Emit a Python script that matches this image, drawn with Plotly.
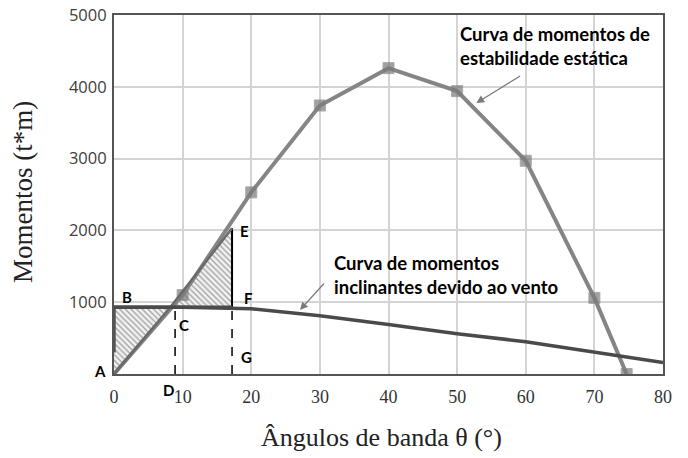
import plotly.graph_objects as go

# ---- data ----
stab_x = [0, 10, 20, 30, 40, 50, 60, 70, 74.7]
stab_y = [0, 1100, 2530, 3740, 4260, 3940, 2970, 1060, 0]

wind_x = [0, 10, 20, 30, 40, 50, 60, 70, 80]
wind_y = [930, 930, 910, 810, 690, 560, 450, 310, 160]

# construction points
A = (0, 0)
B = (0, 930)
C = (8.2, 930)
D_x = 8.9
E = (17.2, 2030)
F = (17.2, 930)

x_ticks = [0, 10, 20, 30, 40, 50, 60, 70, 80]
y_ticks = [1000, 2000, 3000, 4000, 5000]

fig = go.Figure()

hatch = dict(shape="\\", fgcolor="#555555", bgcolor="#f2f2f2", size=4, solidity=0.35)

# hatched triangles ABC and CEF
fig.add_trace(go.Scatter(x=[A[0], B[0], C[0], A[0]], y=[A[1], B[1], C[1], A[1]],
                         fill="toself", fillpattern=hatch, mode="lines",
                         line=dict(width=0), hoverinfo="skip", showlegend=False))
fig.add_trace(go.Scatter(x=[C[0], E[0], F[0], C[0]], y=[C[1], E[1], F[1], C[1]],
                         fill="toself", fillpattern=hatch, mode="lines",
                         line=dict(width=0), hoverinfo="skip", showlegend=False))

# dark segment along y axis
fig.add_trace(go.Scatter(x=[0, 0], y=[300, B[1]], mode="lines",
                         line=dict(color="#555555", width=3.5), showlegend=False))

# dashed verticals
fig.add_trace(go.Scatter(x=[D_x, D_x], y=[0, C[1]], mode="lines",
                         line=dict(color="black", width=1.5, dash="dash"), showlegend=False))
fig.add_trace(go.Scatter(x=[F[0], F[0]], y=[0, F[1]], mode="lines",
                         line=dict(color="black", width=1.5, dash="dash"), showlegend=False))
# solid EF
fig.add_trace(go.Scatter(x=[E[0], F[0]], y=[E[1], F[1]], mode="lines",
                         line=dict(color="black", width=2), showlegend=False))

# stability curve
fig.add_trace(go.Scatter(x=stab_x, y=stab_y, mode="lines+markers",
                         line=dict(color="#858585", width=4),
                         marker=dict(symbol="square", size=[0] + [11] * (len(stab_x) - 1),
                                     color="#7a7a7a"),
                         showlegend=False))

# A-C-E line
fig.add_trace(go.Scatter(x=[A[0], C[0], E[0]], y=[A[1], C[1], E[1]], mode="lines",
                         line=dict(color="#6a6a6a", width=2.5), showlegend=False))

# wind heeling curve
fig.add_trace(go.Scatter(x=wind_x, y=wind_y, mode="lines",
                         line=dict(color="#4a4a4a", width=3.5), showlegend=False))
# horizontal B-F highlight
fig.add_trace(go.Scatter(x=[B[0], F[0]], y=[B[1], F[1]], mode="lines",
                         line=dict(color="#4a4a4a", width=3.5), showlegend=False))

# plot-area pixel geometry used for paper-positioned labels
PL, PW, PB, PH = 114, 549, 374, 359


def px(xp):
    return (xp - PL) / PW


def py(yp):
    return (PB - yp) / PH


lab_font = dict(family="Lato", size=15, color="black")
letters = [("B", 1.95, 1070), ("C", 10.2, 680),
           ("E", 19.0, 1990), ("F", 19.6, 1055), ("G", 19.3, 236)]
for t, x, y in letters:
    fig.add_annotation(x=x, y=y, text="<b>%s</b>" % t, showarrow=False, font=lab_font)
for t, xp, yp in [("A", 100, 371), ("D", 168, 390)]:
    fig.add_annotation(xref="paper", yref="paper", x=px(xp), y=py(yp), text="<b>%s</b>" % t,
                       showarrow=False, xanchor="center", yanchor="middle", font=lab_font)

txt_font = dict(family="Lato", size=18.5, color="black")
for t, x, y in [("Curva de momentos de", 50.1, 4736), ("estabilidade estática", 50.1, 4403),
                ("Curva de momentos", 31.8, 1542), ("inclinantes devido ao vento", 31.8, 1208)]:
    fig.add_annotation(x=x, y=y, text="<b>%s</b>" % t, showarrow=False, xanchor="left",
                       font=txt_font)

# arrows
fig.add_annotation(x=52.8, y=3774, ax=59.4, ay=4164, axref="x", ayref="y", text="",
                   showarrow=True, arrowhead=2, arrowsize=1.3, arrowwidth=1.2, arrowcolor="#7a7a7a")
fig.add_annotation(x=27.1, y=891, ax=30.8, ay=1281, axref="x", ayref="y", text="",
                   showarrow=True, arrowhead=2, arrowsize=1.3, arrowwidth=1.2, arrowcolor="#7a7a7a")

# axis titles
fig.add_annotation(xref="paper", yref="paper", x=px(23), y=py(192),
                   xanchor="center", yanchor="middle",
                   text="Momentos (t*m)", textangle=-90, showarrow=False,
                   font=dict(family="Liberation Serif", size=27, color="#222"))
fig.add_annotation(xref="paper", yref="paper", x=px(381), y=py(437),
                   xanchor="center", yanchor="middle",
                   text="Ângulos de banda θ (°)", showarrow=False,
                   font=dict(family="Liberation Serif", size=26, color="#222"))

fig.update_layout(
    width=688, height=458,
    margin=dict(l=PL, r=688 - PL - PW, t=PB - PH, b=458 - PB),
    paper_bgcolor="white", plot_bgcolor="white",
    xaxis=dict(range=[0, 80], tickvals=x_ticks, ticktext=[str(v) for v in x_ticks],
               showgrid=True, gridcolor="#d4d4d4", gridwidth=1.5,
               showline=True, linecolor="#555555", linewidth=2, mirror=True,
               zeroline=False, ticks="", ticklabelstandoff=5, automargin=False,
               ticklabeloverflow="allow",
               tickfont=dict(family="Liberation Serif", size=18, color="#333")),
    yaxis=dict(range=[0, 5000], tickvals=y_ticks, ticktext=[str(v) for v in y_ticks],
               showgrid=True, gridcolor="#d4d4d4", gridwidth=1.5,
               showline=True, linecolor="#555555", linewidth=2, mirror=True,
               zeroline=False, ticks="", ticklabelstandoff=2, automargin=False,
               ticklabeloverflow="allow",
               tickfont=dict(family="Open Sans", size=16.5, color="#404040")),
)

fig.write_html("out.html", config={"displayModeBar": False},
               post_script="document.body.style.margin='0';document.body.style.padding='0';")
